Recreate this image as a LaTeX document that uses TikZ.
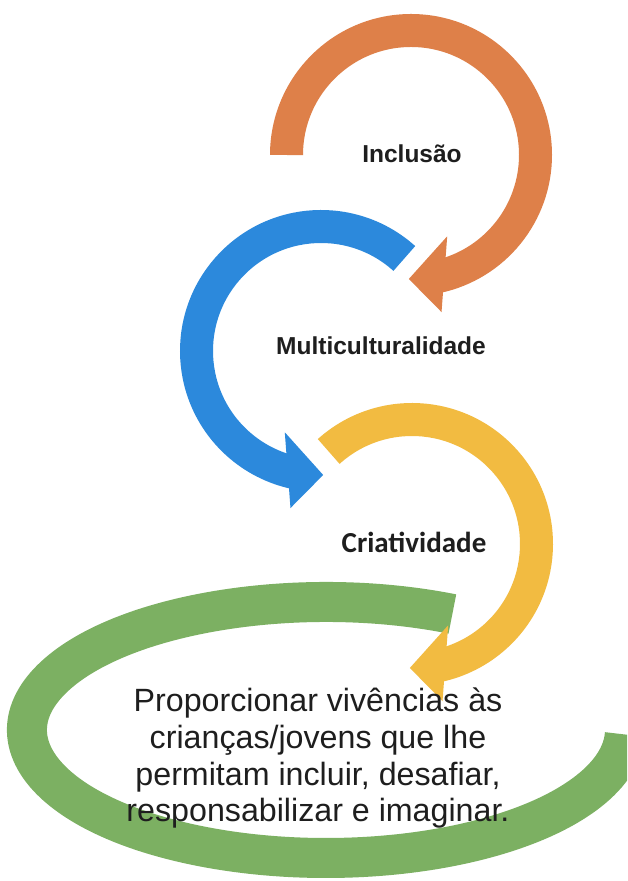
\documentclass[tikz,border=0pt]{standalone}
\usepackage{fontspec}
\setmainfont{Liberation Sans}
\newfontfamily\carl{Carlito}
\usetikzlibrary{calc}
\definecolor{orng}{RGB}{222,128,73}
\definecolor{blu}{RGB}{44,137,220}
\definecolor{yel}{RGB}{242,187,65}
\definecolor{grn}{RGB}{124,176,98}
\definecolor{txt}{RGB}{30,30,30}
\begin{document}
\begin{tikzpicture}[x=1pt,y=1pt,
  band/.style={line width=33pt},
  lbl/.style={text=txt,inner sep=0pt,anchor=base,font=\bfseries\fontsize{24.5}{29}\selectfont},
  clbl/.style={text=txt,inner sep=0pt,anchor=base,font=\carl\bfseries\fontsize{29}{34}\selectfont},
  para/.style={text=txt,inner sep=0pt,anchor=base,font=\fontsize{32.2}{37}\selectfont}]
\useasboundingbox (0,0) rectangle (627,881);
\fill[white] (0,0) rectangle (627,881);
\clip (0,0) rectangle (627,881);
\coordinate (Oo) at (411,726);
\coordinate (Ob) at (321,530);
\coordinate (Oy) at (412,337);
\coordinate (Og) at (326,151);
% green ring
\draw[grn, line width=40pt] ($(Og)+(65:299 and 128)$) arc[start angle=65, end angle=358, x radius=299, y radius=128];
% orange arrow
\draw[orng, band] ($(Oo)+(180:124.5)$) arc[start angle=180, end angle=-78, radius=124.5];
\fill[orng] ($(Oo)+(-66:89)$) -- ($(Oo)+(-79:160)$) -- ($(Oo)+(-91:124)$) -- cycle;
% blue arrow
\draw[blu, band] ($(Ob)+(48:124.5)$) arc[start angle=48, end angle=258, radius=124.5];
\fill[blu] ($(Ob)+(246:89)$) -- ($(Ob)+(259:160)$) -- ($(Ob)+(271:124)$) -- cycle;
% yellow arrow
\draw[yel, band] ($(Oy)+(132:124.5)$) arc[start angle=132, end angle=-78, radius=124.5];
\fill[yel] ($(Oy)+(-66:89)$) -- ($(Oy)+(-79:160)$) -- ($(Oy)+(-91:124)$) -- cycle;
% labels
\node[lbl] (inc) at (412,718) {Inclusão};
\node[lbl] (mul) at (381,526) {Multiculturalidade};
\node[clbl] (cri) at (414,328) {Criatividade};
\node[para] (p1) at (318,169) {Proporcionar vivências às};
\node[para] (p2) at (318,132.3) {crianças/jovens que lhe};
\node[para] (p3) at (318,95.6) {permitam incluir, desafiar,};
\node[para] (p4) at (318,59) {responsabilizar e imaginar.};
\end{tikzpicture}
\end{document}
